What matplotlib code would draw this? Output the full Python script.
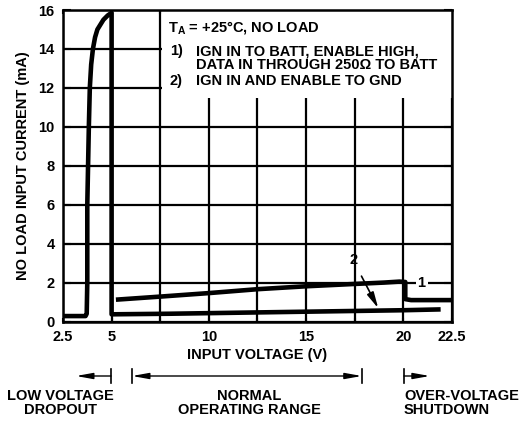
import matplotlib
matplotlib.use('Agg')
import matplotlib.pyplot as plt
import matplotlib.transforms as transforms
from matplotlib.patches import Rectangle

plt.rcParams['font.family'] = ['Liberation Sans', 'DejaVu Sans']
plt.rcParams['font.weight'] = 'bold'
plt.rcParams['axes.labelweight'] = 'bold'
plt.rcParams['mathtext.fontset'] = 'custom'
plt.rcParams['mathtext.rm'] = 'Liberation Sans:bold'
plt.rcParams['mathtext.bf'] = 'Liberation Sans:bold'
plt.rcParams['mathtext.it'] = 'Liberation Sans:bold'

# curva 1: IGN IN a BATT, ENABLE alto
v_curva1 = [5.34, 7.5, 10.0, 12.5, 15.0, 17.5, 19.0, 19.8, 20.1, 20.1, 20.4, 22.5]
i_curva1 = [1.13, 1.28, 1.46, 1.66, 1.81, 1.93, 2.0, 2.05, 2.03, 1.15, 1.1, 1.1]

# curva 2: IGN IN y ENABLE a GND (incluye la zona de baja tension)
v_curva2 = [2.5, 3.66, 3.72, 3.75, 3.75, 3.79, 3.83, 3.88, 3.95, 4.04, 4.15, 4.27,
            4.58, 4.8, 5.0, 5.0, 8.0, 12.0, 16.0, 20.0, 21.8]
i_curva2 = [0.28, 0.28, 0.4, 2.0, 6.0, 8.0, 10.0, 12.0, 13.2, 14.0, 14.6, 15.0,
            15.5, 15.72, 15.86, 0.37, 0.4, 0.46, 0.52, 0.58, 0.62]

x_ticks = [2.5, 5, 10, 15, 20, 22.5]
x_labels = ['2.5', '5', '10', '15', '20', '22.5']
x_minor = [7.5, 12.5, 17.5]
y_ticks = [0, 2, 4, 6, 8, 10, 12, 14, 16]

leyenda = ['T$_{\\rm A}$ = +25°C, NO LOAD',
           'IGN IN TO BATT, ENABLE HIGH,',
           'DATA IN THROUGH 250Ω TO BATT',
           'IGN IN AND ENABLE TO GND']

fs = 10.5

fig = plt.figure(figsize=(5.27, 4.24), dpi=100)
fig.set_facecolor('white')
ax = fig.add_axes([0.1195, 0.2417, 0.7381, 0.7347])

ax.set_xlim(2.5, 22.5)
ax.set_ylim(0, 16)
ax.set_xticks(x_ticks)
ax.set_xticklabels(x_labels)
ax.set_xticks(x_minor, minor=True)
ax.set_yticks(y_ticks)

ax.grid(True, which='both', color='black', lw=1.6)
ax.tick_params(axis='both', which='both', direction='in', top=True, right=True,
               width=1.5, labelsize=10.5, pad=6)
ax.tick_params(axis='x', which='both', length=3)
ax.tick_params(axis='y', which='both', length=6)
for sp in ax.spines.values():
    sp.set_linewidth(1.8)

# recuadro blanco de la leyenda
ax.add_patch(Rectangle((7.58, 11.5), 22.5 - 7.58, 16 - 11.5, facecolor='white',
                       edgecolor='none', zorder=1.8))

ax.plot(v_curva2, i_curva2, color='black', lw=3.3, zorder=3)
ax.plot(v_curva1, i_curva1, color='black', lw=3.3, zorder=3)

ax.text(7.9, 15.09, leyenda[0], fontsize=fs, va='center', zorder=4)
ax.text(8.0, 13.87, '1)', fontsize=fs, va='center', zorder=4)
ax.text(9.32, 13.87, leyenda[1], fontsize=fs, va='center', zorder=4)
ax.text(9.32, 13.15, leyenda[2], fontsize=fs, va='center', zorder=4)
ax.text(8.0, 12.36, '2)', fontsize=fs, va='center', zorder=4)
ax.text(9.32, 12.36, leyenda[3], fontsize=fs, va='center', zorder=4)

ax.text(20.94, 1.96, '1', fontsize=fs, ha='center', va='center', zorder=4,
        bbox=dict(facecolor='white', edgecolor='none', pad=1.5))
ax.annotate('2', xy=(18.71, 0.68), xytext=(17.42, 3.15), fontsize=fs,
            ha='center', va='center', zorder=4,
            arrowprops=dict(arrowstyle='-|>,head_length=0.9,head_width=0.2',
                            color='black', lw=1.2, shrinkA=5, shrinkB=0))

ax.set_xlabel('INPUT VOLTAGE (V)', fontsize=fs, labelpad=3)
ax.set_ylabel('NO LOAD INPUT CURRENT (mA)', fontsize=fs, labelpad=6)

# rangos de operacion debajo del grafico
trans = transforms.blended_transform_factory(ax.transData, fig.transFigure)
y_flecha = 1 - 376 / 424
estilo = '-|>,head_length=1.0,head_width=0.18'
estilo2 = '<|-|>,head_length=1.0,head_width=0.18'
ax.annotate('', xy=(3.17, y_flecha), xytext=(4.97, y_flecha),
            xycoords=('data', 'figure fraction'), textcoords=('data', 'figure fraction'),
            arrowprops=dict(arrowstyle=estilo, color='black', lw=1, shrinkA=0, shrinkB=0))
ax.annotate('', xy=(17.86, y_flecha), xytext=(6.05, y_flecha),
            xycoords=('data', 'figure fraction'), textcoords=('data', 'figure fraction'),
            arrowprops=dict(arrowstyle=estilo2, color='black', lw=1, shrinkA=0, shrinkB=0))
ax.annotate('', xy=(21.36, y_flecha), xytext=(20.03, y_flecha),
            xycoords=('data', 'figure fraction'), textcoords=('data', 'figure fraction'),
            arrowprops=dict(arrowstyle=estilo, color='black', lw=1, shrinkA=0, shrinkB=0))
for xb in [4.97, 6.05, 17.86, 20.03]:
    ax.plot([xb, xb], [y_flecha + 0.0155, y_flecha - 0.0155], color='black', lw=1.2,
            transform=trans, clip_on=False)

y_texto = 1 - 403 / 424
ax.text(2.35, y_texto, 'LOW VOLTAGE\nDROPOUT', transform=trans, fontsize=fs,
        ha='center', va='center', multialignment='center', linespacing=0.95)
ax.text(12.1, y_texto, 'NORMAL\nOPERATING RANGE', transform=trans, fontsize=fs,
        ha='center', va='center', multialignment='center', linespacing=0.95)
ax.text(20.03, y_texto, 'OVER-VOLTAGE\nSHUTDOWN', transform=trans, fontsize=fs,
        ha='left', va='center', multialignment='left', linespacing=0.95)

plt.savefig('out.png', dpi=100)
plt.close()
